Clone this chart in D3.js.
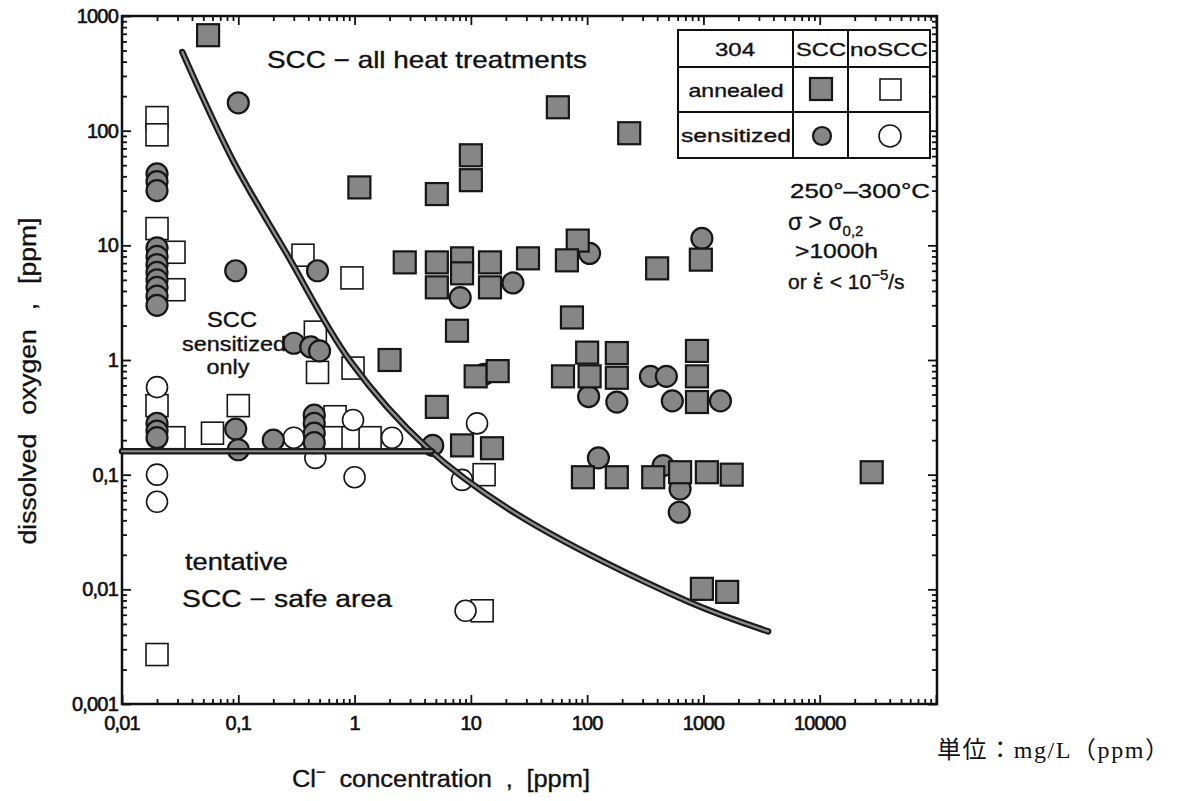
<!DOCTYPE html>
<html>
<head>
<meta charset="utf-8">
<script src="https://cdn.jsdelivr.net/npm/d3@7"></script>
<style>
  html, body { margin: 0; padding: 0; background: #fff; }
  svg { display: block; }
  text { font-family: "Liberation Sans", Arial, sans-serif; fill: #111; stroke: #111; stroke-width: 0.35px; }
  text.tick-label { stroke-width: 0.6px; }
  text.unit { font-family: "Liberation Serif", "Noto Sans CJK JP", serif; stroke-width: 0; }
</style>
</head>
<body>
<svg id="chart" width="1178" height="801"></svg>
<script>
// ---- axis ticks ----
const xTicks = [0.01, 0.1, 1, 10, 100, 1000, 10000];
const xTickLabels = ["0,01", "0,1", "1", "10", "100", "1000", "10000"];
const yTicks = [0.001, 0.01, 0.1, 1, 10, 100, 1000];
const yTickLabels = ["0,001", "0,01", "0,1", "1", "10", "100", "1000"];

// ---- test results: [Cl- ppm, O2 ppm] ----
// 304 annealed, SCC (filled squares)
const annealedScc = [
  [0.055, 680], [1.1, 32], [5.1, 28], [10, 61], [10, 37],
  [2.7, 7.1], [5.1, 7.1], [8.4, 7.7], [8.4, 5.7], [14.6, 7.1], [31, 7.7],
  [5.1, 4.3], [14.6, 4.3], [7.6, 1.8], [2, 1.0], [5.1, 0.39],
  [11, 0.72], [17, 0.8], [8.4, 0.18], [15.2, 0.17],
  [56, 160], [230, 95], [83, 11], [67, 7.4], [400, 6.3], [950, 7.5],
  [74, 2.35], [100, 1.16], [180, 1.15], [880, 1.2],
  [62, 0.72], [105, 0.72], [180, 0.70], [880, 0.72], [880, 0.43],
  [92, 0.095], [180, 0.095], [370, 0.095], [630, 0.105], [1070, 0.105],
  [1750, 0.1], [28000, 0.105], [970, 0.0101], [1600, 0.0095]
];
// 304 sensitized, SCC (filled circles)
const sensitizedScc = [
  [0.1, 175], [0.02, 42], [0.02, 36], [0.02, 30],
  [0.02, 9.5], [0.02, 8], [0.02, 6.8], [0.02, 5.8], [0.02, 5], [0.02, 4.3], [0.02, 3.6], [0.02, 3],
  [0.095, 6], [0.48, 6], [8.1, 3.5], [23, 4.7],
  [0.3, 1.4], [0.42, 1.3], [0.5, 1.2], [13, 0.75],
  [0.02, 0.28], [0.02, 0.24], [0.02, 0.21], [0.095, 0.25], [0.1, 0.165], [0.2, 0.2],
  [0.45, 0.33], [0.45, 0.28], [0.45, 0.23], [0.45, 0.19], [4.7, 0.18],
  [105, 8.5], [970, 11.5], [103, 0.48], [180, 0.43], [350, 0.72], [480, 0.72],
  [540, 0.44], [1400, 0.44], [125, 0.14], [450, 0.12], [630, 0.075], [620, 0.047]
];
// 304 annealed, no SCC (open squares)
const annealedNoScc = [
  [0.02, 130], [0.02, 92], [0.02, 14], [0.028, 8.7], [0.028, 4.1],
  [0.36, 8.2], [0.95, 5.2], [0.46, 1.75], [0.48, 0.78], [0.97, 0.85],
  [0.02, 0.4], [0.028, 0.21], [0.06, 0.23], [0.1, 0.4], [0.68, 0.32],
  [0.68, 0.21], [0.97, 0.21], [1.36, 0.21], [13, 0.1], [12.5, 0.0065], [0.02, 0.0027]
];
// 304 sensitized, no SCC (open circles)
const sensitizedNoScc = [
  [0.02, 0.58], [0.02, 0.1], [0.02, 0.058], [0.3, 0.21], [0.46, 0.14],
  [0.97, 0.3], [2.1, 0.21], [11.3, 0.28], [8.4, 0.09], [1, 0.095], [9, 0.0065]
];

// ---- boundary lines ----
const curveX = [0.033, 0.09, 0.26, 0.91, 4.2, 26, 720, 3600];
const curveY = [485, 55, 8.5, 0.99, 0.172, 0.044, 0.0079, 0.0043];
const limitX = [0.01, 4.6];
const limitY = [0.16, 0.16];

// ---- drawing ----
const svg = d3.select("#chart");
const L = 122, R = 937, T = 16, B = 704;
const x = d3.scaleLog().domain([0.01, 100000]).range([L, 936]);
const y = d3.scaleLog().domain([0.001, 1000]).range([B, T]);

// minor ticks at 2..9 of every decade
function minors(lo, hi) {
  const out = [];
  for (let d = lo; d < hi * 0.999; d *= 10)
    for (let k = 2; k <= 9; k++) out.push(d * k);
  return out;
}
const xMinor = minors(0.01, 100000);
const yMinor = minors(0.001, 1000);
const xMajorAll = xTicks.concat([100000]);

function tickAxis(axisFn, scale, vals, size, transform) {
  const g = svg.append("g").attr("transform", transform)
    .call(axisFn(scale).tickValues(vals).tickSize(-size).tickFormat(""));
  g.select(".domain").remove();
  g.selectAll(".tick line").attr("stroke", "#111").attr("stroke-width", 1.8);
  return g;
}
// inward ticks on all four sides
tickAxis(d3.axisBottom, x, xMajorAll, 9, `translate(0,${B})`);
tickAxis(d3.axisBottom, x, xMinor, 5, `translate(0,${B})`);
tickAxis(d3.axisTop, x, xMajorAll, 9, `translate(0,${T})`);
tickAxis(d3.axisTop, x, xMinor, 5, `translate(0,${T})`);
tickAxis(d3.axisLeft, y, yTicks, 9, `translate(${L},0)`);
tickAxis(d3.axisLeft, y, yMinor, 5, `translate(${L},0)`);
tickAxis(d3.axisRight, y, yTicks, 9, `translate(${R},0)`);
tickAxis(d3.axisRight, y, yMinor, 5, `translate(${R},0)`);

svg.append("rect").attr("x", L).attr("y", T).attr("width", R - L).attr("height", B - T)
  .attr("fill", "none").attr("stroke", "#111").attr("stroke-width", 2.5);

// tick labels
svg.append("g").selectAll("text").data(xTicks).join("text")
  .attr("class", "tick-label")
  .attr("x", d => x(d)).attr("y", 730).attr("text-anchor", "middle")
  .attr("font-size", 20).attr("letter-spacing", -0.8)
  .text((d, i) => xTickLabels[i]);
svg.append("g").selectAll("text").data(yTicks).join("text")
  .attr("class", "tick-label")
  .attr("x", 118).attr("y", d => y(d) + 7).attr("text-anchor", "end")
  .attr("font-size", 20).attr("letter-spacing", -0.8)
  .text((d, i) => yTickLabels[i]);

// axis titles
svg.append("text").attr("transform", "translate(36,381) rotate(-90)")
  .attr("text-anchor", "middle").attr("font-size", 23).attr("word-spacing", 10)
  .attr("textLength", 327).attr("lengthAdjust", "spacingAndGlyphs")
  .text("dissolved oxygen , [ppm]");
svg.append("text").attr("x", 292).attr("y", 787).attr("font-size", 23).attr("word-spacing", 6)
  .attr("textLength", 298).attr("lengthAdjust", "spacingAndGlyphs")
  .call(t => {
    t.append("tspan").text("Cl");
    t.append("tspan").attr("dy", -10).attr("font-size", 15).text("\u2212");
    t.append("tspan").attr("dy", 10).text(" concentration , [ppm]");
  });

// markers
const SQ = 22, CR = 10.5;
const fillGray = "#868686", edge = "#161616";
function squares(data, filled) {
  svg.append("g").selectAll("rect").data(data).join("rect")
    .attr("x", d => x(d[0]) - SQ / 2).attr("y", d => y(d[1]) - SQ / 2)
    .attr("width", SQ).attr("height", SQ)
    .attr("fill", filled ? fillGray : "#fff")
    .attr("stroke", edge).attr("stroke-width", filled ? 2.2 : 1.6);
}
function circles(data, filled) {
  svg.append("g").selectAll("circle").data(data).join("circle")
    .attr("cx", d => x(d[0])).attr("cy", d => y(d[1])).attr("r", CR)
    .attr("fill", filled ? fillGray : "#fff")
    .attr("stroke", edge).attr("stroke-width", filled ? 2.2 : 1.6);
}
squares(annealedNoScc, false);
circles(sensitizedNoScc, false);
circles(sensitizedScc, true);
squares(annealedScc, true);

// boundary lines: dark outline with grey core
const line = d3.line().x(d => x(d[0])).y(d => y(d[1]));
const curvePts = curveX.map((v, i) => [v, curveY[i]]);
const limitPts = limitX.map((v, i) => [v, limitY[i]]);
[[curvePts, d3.curveCatmullRom.alpha(0.5)], [limitPts, d3.curveLinear]].forEach(([pts, c]) => {
  const p = line.curve(c)(pts);
  svg.append("path").attr("d", p).attr("fill", "none")
    .attr("stroke", "#1a1a1a").attr("stroke-width", 6.5).attr("stroke-linecap", "round");
  svg.append("path").attr("d", p).attr("fill", "none")
    .attr("stroke", "#8d8d8d").attr("stroke-width", 2.2).attr("stroke-linecap", "round");
});

// region labels
const reg = (tx, ty, s, w, fs, anchor) => svg.append("text").attr("x", tx).attr("y", ty)
  .attr("font-size", fs).attr("text-anchor", anchor || "start")
  .attr("textLength", w).attr("lengthAdjust", "spacingAndGlyphs").text(s);
reg(267, 68, "SCC \u2212 all  heat  treatments", 320, 24);
reg(232, 327, "SCC", 50, 22, "middle");
reg(234, 351, "sensitized", 104, 20, "middle");
reg(228, 374, "only", 43, 20, "middle");
reg(185, 570, "tentative", 103, 23);
reg(182, 607, "SCC \u2212 safe   area", 210, 23);

// legend table
const lg = svg.append("g");
const tx0 = 678, tx1 = 793, tx2 = 848, tx3 = 930, ty0 = 30, ty1 = 67, ty2 = 112, ty3 = 158;
lg.append("rect").attr("x", tx0).attr("y", ty0).attr("width", tx3 - tx0).attr("height", ty3 - ty0)
  .attr("fill", "#fff").attr("stroke", "#111").attr("stroke-width", 2);
[[tx0, ty1, tx3, ty1], [tx0, ty2, tx3, ty2], [tx1, ty0, tx1, ty3], [tx2, ty0, tx2, ty3]].forEach(s => {
  lg.append("line").attr("x1", s[0]).attr("y1", s[1]).attr("x2", s[2]).attr("y2", s[3])
    .attr("stroke", "#111").attr("stroke-width", 2);
});
const lt = (tx, ty, s, w) => lg.append("text").attr("x", tx).attr("y", ty).attr("font-size", 19)
  .attr("text-anchor", "middle").attr("textLength", w).attr("lengthAdjust", "spacingAndGlyphs").text(s);
lt(735, 56, "304", 40);
lt(821, 56, "SCC", 50);
lt(889, 56, "noSCC", 78);
lt(736, 97, "annealed", 95);
lt(736, 142, "sensitized", 110);
lg.append("rect").attr("x", 810).attr("y", 78).attr("width", 22).attr("height", 22)
  .attr("fill", fillGray).attr("stroke", edge).attr("stroke-width", 2.2);
lg.append("rect").attr("x", 880).attr("y", 79).attr("width", 21).attr("height", 21)
  .attr("fill", "#fff").attr("stroke", edge).attr("stroke-width", 1.6);
lg.append("circle").attr("cx", 822).attr("cy", 136).attr("r", 9)
  .attr("fill", fillGray).attr("stroke", edge).attr("stroke-width", 2.2);
lg.append("circle").attr("cx", 890).attr("cy", 136).attr("r", 11)
  .attr("fill", "#fff").attr("stroke", edge).attr("stroke-width", 1.6);

// test conditions
const cond = svg.append("g").attr("font-size", 21);
cond.append("text").attr("x", 790).attr("y", 198).attr("textLength", 140).attr("lengthAdjust", "spacingAndGlyphs")
  .text("250\u00b0\u2013300\u00b0C");
cond.append("text").attr("x", 788).attr("y", 230).attr("font-size", 23).call(t => {
  t.append("tspan").text("\u03c3 > \u03c3");
  t.append("tspan").attr("dy", 6).attr("font-size", 15).text("0,2");
});
cond.append("text").attr("x", 795).attr("y", 258).attr("textLength", 83).attr("lengthAdjust", "spacingAndGlyphs")
  .text(">1000h");
cond.append("text").attr("x", 788).attr("y", 289).call(t => {
  t.append("tspan").text("or  ");
  t.append("tspan").style("font-family", "'DejaVu Sans', sans-serif").text("\u03b5\u0307");
  t.append("tspan").text(" < 10");
  t.append("tspan").attr("dy", -9).attr("font-size", 15).text("\u22125");
  t.append("tspan").attr("dy", 9).text("/s");
});

// unit note
svg.append("text").attr("class", "unit").attr("x", 937).attr("y", 758).attr("font-size", 24)
  .attr("textLength", 232).attr("lengthAdjust", "spacing")
  .text("単位：mg/L（ppm）");
</script>
</body>
</html>
